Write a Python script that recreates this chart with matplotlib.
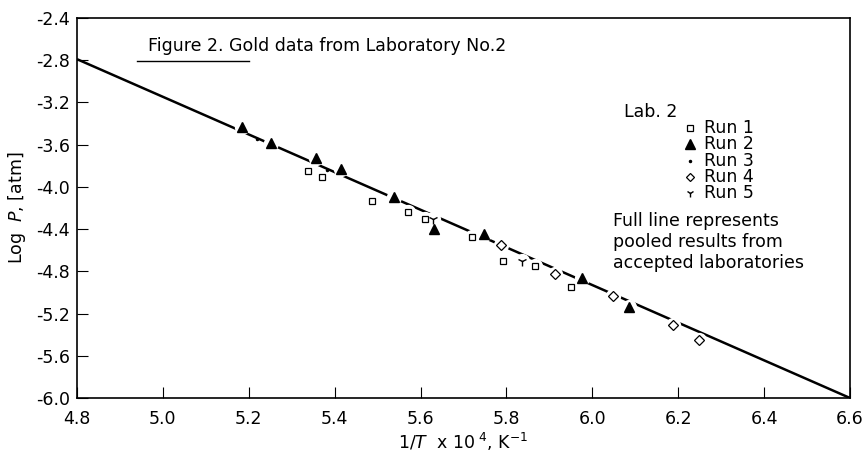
import matplotlib
matplotlib.use("Agg")
import matplotlib.pyplot as plt
from matplotlib.lines import Line2D
import numpy as np

plt.rcParams['font.family'] = ['DejaVu Sans']
plt.rcParams['axes.unicode_minus'] = False

# pooled line (accepted laboratories)
line_x = [4.8, 6.6]
line_y = [-2.79, -6.0]

# Run 1 (open squares)
run1_x = [5.338, 5.371, 5.486, 5.570, 5.611, 5.719, 5.793, 5.867, 5.950]
run1_y = [-3.846, -3.903, -4.133, -4.240, -4.303, -4.479, -4.698, -4.748, -4.950]
# Run 2 (filled triangles)
run2_x = [5.184, 5.252, 5.356, 5.414, 5.537, 5.631, 5.747, 5.977, 6.086]
run2_y = [-3.435, -3.587, -3.729, -3.833, -4.098, -4.398, -4.448, -4.865, -5.134]
# Run 3 (dots)
run3_x = [5.218, 5.381]
run3_y = [-3.549, -3.839]
# Run 4 (open diamonds)
run4_x = [5.787, 5.913, 6.049, 6.189, 6.249]
run4_y = [-4.550, -4.824, -5.033, -5.310, -5.449]
# Run 5 (Y marks)
run5_x = [5.630, 5.836]
run5_y = [-4.306, -4.698]

xticks = [4.8, 5.0, 5.2, 5.4, 5.6, 5.8, 6.0, 6.2, 6.4, 6.6]
yticks = [-6.0, -5.6, -5.2, -4.8, -4.4, -4.0, -3.6, -3.2, -2.8, -2.4]

W, H = 863, 455
fig = plt.figure(figsize=(W / 100, H / 100), dpi=100)
ax = fig.add_axes([77 / W, 1 - 398 / H, (850 - 77) / W, (398 - 18) / H])

ax.plot(line_x, line_y, color='black', lw=1.8, zorder=1, solid_capstyle='butt')

# white halos to break the line around markers
for xs, ys in [(run1_x, run1_y), (run2_x, run2_y), (run4_x, run4_y), (run5_x, run5_y)]:
    ax.plot(xs, ys, ls='none', marker='o', ms=11, mfc='white', mec='none', zorder=2)

ax.plot(run1_x, run1_y, ls='none', marker='s', ms=5, mfc='white', mec='black', mew=0.9, zorder=3)
ax.plot(run2_x, run2_y, ls='none', marker='^', ms=7.5, mfc='black', mec='black', zorder=3)
ax.plot(run3_x, run3_y, ls='none', marker='.', ms=3, color='black', zorder=3)
ax.plot(run4_x, run4_y, ls='none', marker='D', ms=5, mfc='white', mec='black', mew=0.9, zorder=3)
ax.plot(run5_x, run5_y, ls='none', marker='1', ms=7, color='black', mew=1.0, zorder=3)

ax.set_xlim(4.8, 6.6)
ax.set_ylim(-6.0, -2.4)
ax.set_xticks(xticks)
ax.set_yticks(yticks)
ax.set_xticklabels([f"{v:.1f}" for v in xticks])
ax.set_yticklabels([f"{v:.1f}" for v in yticks])
ax.tick_params(axis='both', direction='in', length=8, width=0.8, labelsize=12.5)
ax.tick_params(axis='x', pad=9)
ax.tick_params(axis='y', pad=5)
for s in ax.spines.values():
    s.set_linewidth(1.2)

ax.set_xlabel(r"1/$T$  x 10$^{\ 4}$, K$^{-1}$", fontsize=12.5, labelpad=2)
ax.set_ylabel(r"Log  $P$, [atm]", fontsize=12.5, labelpad=6)

# title with underline
fig.text(148 / W, 1 - 46 / H, "Figure 2. Gold data from Laboratory No.2",
         fontsize=12.5, ha='left', va='center')
fig.add_artist(Line2D([137 / W, 249 / W], [1 - 61 / H, 1 - 61 / H],
                      transform=fig.transFigure, color='black', lw=1.0))

# legend (manual)
fig.text(624 / W, 1 - 112 / H, "Lab. 2", fontsize=12.5, ha='left', va='center')
labels = ["Run 1", "Run 2", "Run 3", "Run 4", "Run 5"]
styles = [dict(marker='s', ms=5, mfc='white', mec='black', mew=0.9),
          dict(marker='^', ms=6.5, mfc='black', mec='black'),
          dict(marker='.', ms=3, color='black'),
          dict(marker='D', ms=4.5, mfc='white', mec='black', mew=0.9),
          dict(marker='1', ms=6, color='black', mew=1.0)]
for i, (lab, st) in enumerate(zip(labels, styles)):
    yy = 1 - (128 + i * 16.3) / H
    fig.add_artist(Line2D([690 / W], [yy], transform=fig.transFigure, ls='none', **st))
    fig.text(704 / W, yy, lab, fontsize=12.5, ha='left', va='center')

fig.text(613 / W, 1 - 242 / H,
         "Full line represents\npooled results from\naccepted laboratories",
         fontsize=12.5, ha='left', va='center', linespacing=1.25)

fig.savefig("out.png", dpi=100)
